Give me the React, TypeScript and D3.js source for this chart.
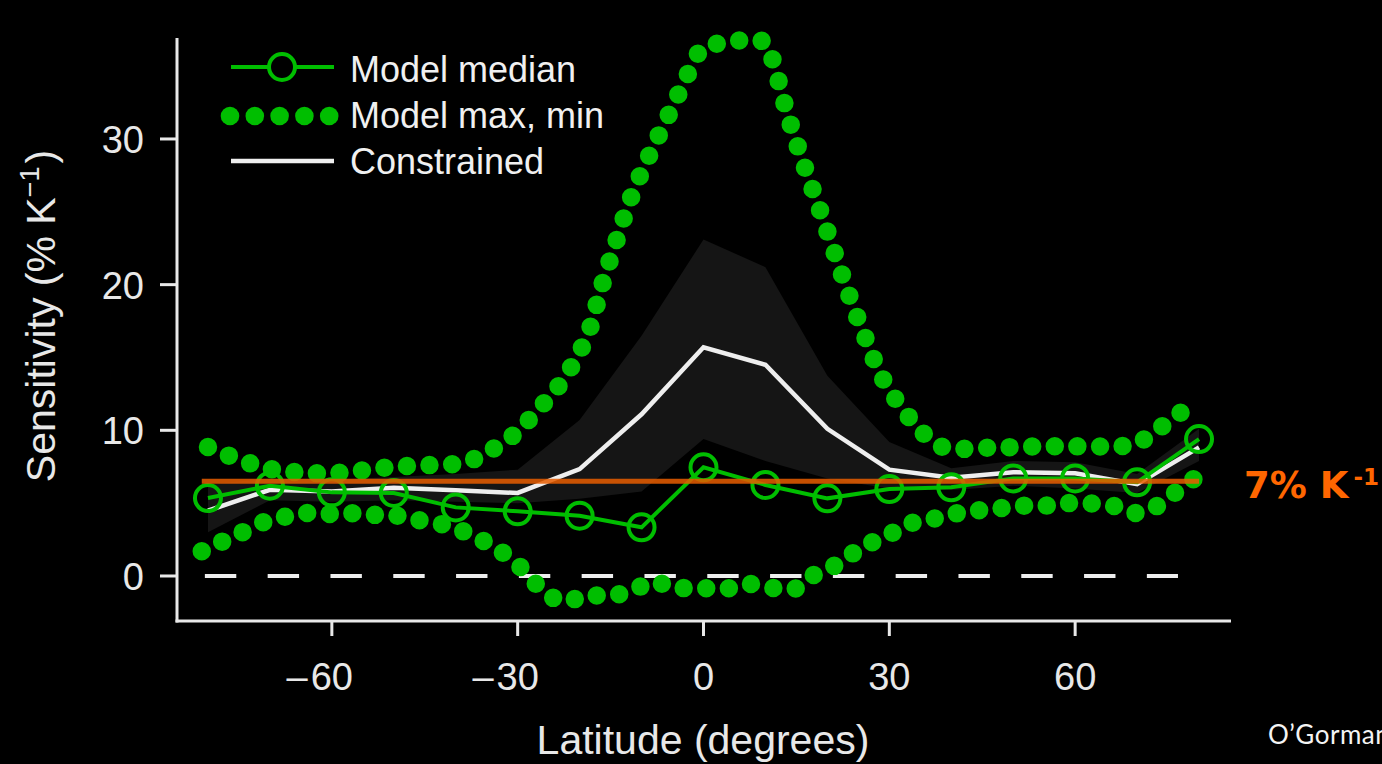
import React, { useRef, useEffect } from "react";
import * as d3 from "d3";

// latitudes of the median / constrained series
const latitudes = [-80, -70, -60, -50, -40, -30, -20, -10, 0, 10, 20, 30, 40, 50, 60, 70, 80];
const modelMedian = [5.35, 6.2, 5.74, 5.7, 4.71, 4.44, 4.14, 3.34, 7.46, 6.25, 5.33, 5.97, 6.09, 6.7, 6.7, 6.43, 9.4];
const constrained = [4.48, 5.92, 5.8, 6.05, 5.88, 5.7, 7.34, 11.1, 15.7, 14.5, 10.1, 7.3, 6.75, 7.12, 7.05, 6.3, 8.83];
const constrainedLow = [3.0, 5.2, 5.1, 5.2, 5.1, 5.0, 5.3, 5.8, 9.4, 7.9, 6.7, 6.0, 5.9, 6.2, 6.0, 5.7, 7.9];
const constrainedHigh = [6.3, 6.7, 6.6, 6.8, 7.0, 7.3, 10.7, 16.5, 23.1, 21.2, 13.75, 9.2, 7.4, 7.9, 7.8, 7.0, 10.1];

// model max curve
const maxLat = [-80, -75, -70, -65, -60, -55, -50, -45, -40, -36, -33, -30, -27, -24, -21, -18.5, -16.5, -14, -11.5, -8.5, -5, -2, 0, 3.5, 7, 10, 11.5, 13.5, 16, 18.5, 21, 23.5, 26, 29, 33, 36, 39, 45, 50, 55, 60, 65, 69, 72, 75, 78];
const modelMax = [8.85, 8.0, 7.35, 7.1, 7.05, 7.25, 7.5, 7.6, 7.7, 8.2, 9.0, 9.9, 11.3, 12.7, 14.6, 16.8, 19.8, 23.1, 26.2, 29.1, 32.2, 34.9, 36.3, 36.6, 36.8, 36.6, 34.9, 31.8, 28.5, 25.5, 22.4, 19.3, 16.5, 13.5, 11.0, 9.6, 8.8, 8.8, 8.85, 8.9, 8.9, 8.9, 9.0, 9.6, 10.6, 11.5];

// model min curve
const minLat = [-81, -78, -74.7, -70.6, -67.5, -64.3, -60.8, -57.2, -53.7, -50.3, -47, -43, -39.6, -36.4, -33.5, -30.4, -27.8, -25.3, -22.3, -19.2, -15.1, -12.1, -7.9, -5.1, -2.3, 0.7, 4.1, 7.5, 11.6, 15, 18.4, 22.1, 25.8, 29.2, 32.6, 36, 39.6, 43.3, 47, 51.1, 55.1, 58.4, 62.2, 66.1, 69.6, 73.3, 76.2, 79.3];
const modelMin = [1.7, 2.3, 2.95, 3.77, 4.07, 4.32, 4.26, 4.32, 4.2, 4.19, 3.9, 3.64, 3.2, 2.6, 1.9, 0.96, -0.2, -1.24, -1.76, -1.35, -1.35, -1.08, -0.41, -0.82, -0.82, -0.84, -0.84, -0.55, -0.84, -0.84, 0.25, 0.89, 2.08, 2.6, 3.52, 3.8, 4.19, 4.46, 4.6, 4.82, 4.82, 4.99, 4.99, 4.82, 4.32, 4.82, 5.74, 6.7];

const xTicks = [-60, -30, 0, 30, 60];
const yTicks = [0, 10, 20, 30];
const legendLabels = ["Model median", "Model max, min", "Constrained"];
const referenceValue = 6.5;
const referenceRange = [-81, 80];
const zeroLineRange = [-80.5, 76.6];

const GREEN = "#00be00";
const WHITE = "#eeeeee";
const FONT = "'Liberation Sans', Arial, Helvetica, sans-serif";

const App = () => {
  const svgRef = useRef(null);

  useEffect(() => {
    const svg = d3.select(svgRef.current);
    svg.selectAll("*").remove();

    const x = d3.scaleLinear().domain([-85, 85]).range([177, 1230]);
    const y = d3.scaleLinear().domain([-3.09, 37]).range([621, 37]);

    svg.append("rect").attr("width", 1382).attr("height", 764).attr("fill", "#000");

    // constrained range band
    const area = d3
      .area()
      .x((d) => x(d[0]))
      .y0((d) => y(d[1]))
      .y1((d) => y(d[2]));
    svg
      .append("path")
      .datum(latitudes.map((l, i) => [l, constrainedLow[i], constrainedHigh[i]]))
      .attr("fill", "#151515")
      .attr("d", area);

    // zero line
    svg
      .append("line")
      .attr("x1", x(zeroLineRange[0]))
      .attr("x2", x(zeroLineRange[1]))
      .attr("y1", y(0))
      .attr("y2", y(0))
      .attr("stroke", WHITE)
      .attr("stroke-width", 4)
      .attr("stroke-dasharray", "31.4 31.4");

    // dotted max / min
    const smooth = d3
      .line()
      .x((d) => x(d[0]))
      .y((d) => y(d[1]))
      .curve(d3.curveCatmullRom.alpha(0.5));
    [
      maxLat.map((l, i) => [l, modelMax[i]]),
      minLat.map((l, i) => [l, modelMin[i]]),
    ].forEach((pts) => {
      svg
        .append("path")
        .datum(pts)
        .attr("fill", "none")
        .attr("stroke", GREEN)
        .attr("stroke-width", 18.5)
        .attr("stroke-linecap", "round")
        .attr("stroke-dasharray", "0 22.6")
        .attr("d", smooth);
    });

    const line = d3
      .line()
      .x((d) => x(d[0]))
      .y((d) => y(d[1]));

    // constrained
    svg
      .append("path")
      .datum(latitudes.map((l, i) => [l, constrained[i]]))
      .attr("fill", "none")
      .attr("stroke", WHITE)
      .attr("stroke-width", 4.5)
      .attr("d", line);

    // model median
    svg
      .append("path")
      .datum(latitudes.map((l, i) => [l, modelMedian[i]]))
      .attr("fill", "none")
      .attr("stroke", GREEN)
      .attr("stroke-width", 4)
      .attr("d", line);
    svg
      .selectAll(".med")
      .data(latitudes)
      .join("circle")
      .attr("cx", (d) => x(d))
      .attr("cy", (d, i) => y(modelMedian[i]))
      .attr("r", 13)
      .attr("fill", "none")
      .attr("stroke", GREEN)
      .attr("stroke-width", 4);

    // 7% reference
    svg
      .append("line")
      .attr("x1", x(referenceRange[0]))
      .attr("x2", x(referenceRange[1]))
      .attr("y1", y(referenceValue))
      .attr("y2", y(referenceValue))
      .attr("stroke", "#e85d00")
      .attr("stroke-opacity", 0.85)
      .attr("stroke-width", 5);

    const lbl = svg
      .append("text")
      .attr("x", 1244)
      .attr("y", 498)
      .attr("fill", "#ff6600")
      .attr("font-family", "'DejaVu Sans', sans-serif")
      .attr("font-weight", "bold")
      .attr("font-size", 37)
      .text("7% K");
    lbl.append("tspan").attr("font-size", 23).attr("dx", 5).attr("dy", -13).text("-1");

    // axes
    const axisCol = "#e8e8e8";
    svg
      .append("line")
      .attr("x1", 177)
      .attr("x2", 177)
      .attr("y1", 38)
      .attr("y2", 622.5)
      .attr("stroke", axisCol)
      .attr("stroke-width", 3);
    svg
      .append("line")
      .attr("x1", 175.5)
      .attr("x2", 1231)
      .attr("y1", 621)
      .attr("y2", 621)
      .attr("stroke", axisCol)
      .attr("stroke-width", 3);

    yTicks.forEach((t) => {
      svg
        .append("line")
        .attr("x1", 160)
        .attr("x2", 177)
        .attr("y1", y(t))
        .attr("y2", y(t))
        .attr("stroke", axisCol)
        .attr("stroke-width", 3);
      svg
        .append("text")
        .attr("x", 144)
        .attr("y", y(t) + 14)
        .attr("text-anchor", "end")
        .attr("fill", axisCol)
        .attr("font-family", FONT)
        .attr("font-size", 38)
        .text(t);
    });

    xTicks.forEach((t) => {
      svg
        .append("line")
        .attr("x1", x(t))
        .attr("x2", x(t))
        .attr("y1", 621)
        .attr("y2", 636)
        .attr("stroke", axisCol)
        .attr("stroke-width", 3);
      const digits = String(Math.abs(t));
      svg
        .append("text")
        .attr("x", x(t))
        .attr("y", 690)
        .attr("text-anchor", "middle")
        .attr("fill", axisCol)
        .attr("font-family", FONT)
        .attr("font-size", 38)
        .text(digits);
      if (t < 0) {
        const half = (digits.length * 0.556 * 38) / 2;
        svg
          .append("text")
          .attr("x", x(t) - half - 3)
          .attr("y", 690)
          .attr("text-anchor", "end")
          .attr("fill", axisCol)
          .attr("font-family", FONT)
          .attr("font-size", 38)
          .text("\u2013");
      }
    });

    svg
      .append("text")
      .attr("x", 703)
      .attr("y", 754)
      .attr("text-anchor", "middle")
      .attr("fill", axisCol)
      .attr("font-family", FONT)
      .attr("font-size", 41)
      .text("Latitude (degrees)");

    const yt = svg
      .append("text")
      .attr("transform", "translate(55,316) rotate(-90)")
      .attr("text-anchor", "middle")
      .attr("fill", axisCol)
      .attr("font-family", FONT)
      .attr("font-size", 41)
      .text("Sensitivity (% K");
    yt.append("tspan").attr("font-size", 27).attr("dy", -16).text("\u22121");
    yt.append("tspan").attr("dy", 16).attr("dx", 3).text(")");

    // legend
    const lg = svg.append("g");
    lg.append("line").attr("x1", 231).attr("x2", 334).attr("y1", 67).attr("y2", 67)
      .attr("stroke", GREEN).attr("stroke-width", 4);
    lg.append("circle").attr("cx", 282).attr("cy", 67).attr("r", 13)
      .attr("fill", "#000").attr("stroke", GREEN).attr("stroke-width", 4);
    lg.selectAll(".ld")
      .data(d3.range(5))
      .join("circle")
      .attr("cx", (i) => 230 + i * 24.8)
      .attr("cy", 116)
      .attr("r", 9.3)
      .attr("fill", GREEN);
    lg.append("line").attr("x1", 231).attr("x2", 334).attr("y1", 161).attr("y2", 161)
      .attr("stroke", WHITE).attr("stroke-width", 4.5);
    lg.selectAll(".lt")
      .data(legendLabels)
      .join("text")
      .attr("x", 350)
      .attr("y", (d, i) => [82, 127.5, 174][i])
      .attr("fill", "#f0f0f0")
      .attr("font-family", FONT)
      .attr("font-size", 36)
      .text((d) => d);

    svg
      .append("text")
      .attr("x", 1268)
      .attr("y", 744)
      .attr("fill", "#f4f4f4")
      .attr("font-family", "Lato, sans-serif")
      .attr("font-size", 26)
      .attr("letter-spacing", 0.5)
      .text("O\u2019Gorman");
  }, []);

  return (
    <div style={{ position: "fixed", inset: 0, background: "#000" }}>
      <svg ref={svgRef} width={1382} height={764} style={{ display: "block" }} />
    </div>
  );
};

export default App;
